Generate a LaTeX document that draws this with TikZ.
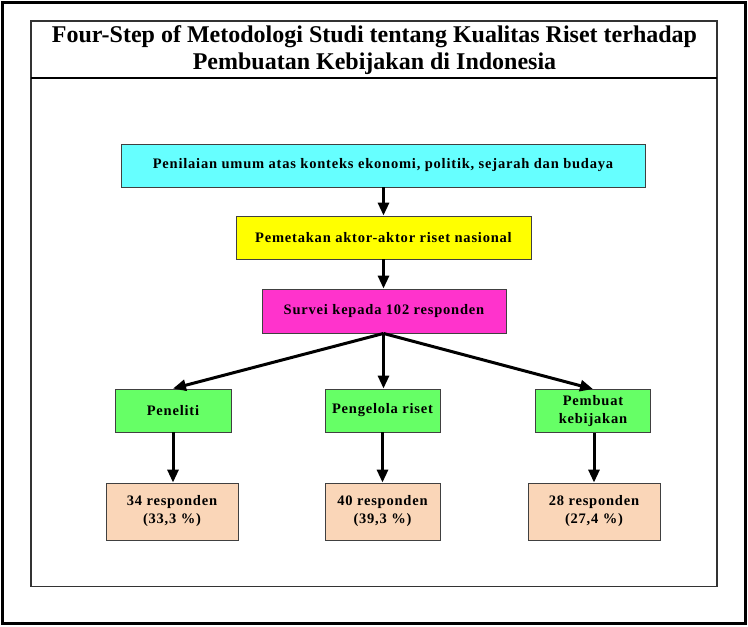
\documentclass[tikz,border=0pt]{standalone}
\usepackage{fontspec}
\setmainfont{Liberation Serif}
\newfontfamily\kotakfont[LetterSpace=5.5]{Liberation Serif}
\usetikzlibrary{arrows.meta}

\definecolor{tahapsatu}{HTML}{66FFFF}
\definecolor{tahapdua}{HTML}{FFFF00}
\definecolor{tahaptiga}{HTML}{FF33CC}
\definecolor{kelompok}{HTML}{66FF66}
\definecolor{jumlah}{HTML}{FAD6B8}

\tikzset{
  kotak/.style={draw=black!75, line width=0.9pt, inner sep=2pt, align=center,
    font=\kotakfont\bfseries\fontsize{14.5}{18}\selectfont},
  judulbaris/.style={anchor=base, inner sep=0pt, font=\bfseries\fontsize{24}{27}\selectfont},
  panah/.style={line width=3pt, -{Triangle[length=13pt,width=11pt]}},
}

\begin{document}
\begin{tikzpicture}[x=1pt,y=-1pt, line join=miter]
  % Frame of the page and the inner panel.
  \useasboundingbox (0,0) rectangle (748,627);
  \draw[line width=2.5pt] (2.5,2.5) rectangle (745.5,623.5);
  \draw[line width=1.2pt, black!80] (31,21) rectangle (717,586.5);
  \draw[line width=1.5pt] (31,78) -- (717,78);
  \node[judulbaris] (judul) at (374.5,42.5)
    {Four-Step of Metodologi Studi tentang Kualitas Riset terhadap};
  \node[judulbaris] (subjudul) at (374.5,69)
    {Pembuatan Kebijakan di Indonesia};

  % The three stages, one under the other.
  \node[kotak, fill=tahapsatu, minimum width=524, minimum height=43] (umum) at (383,165.5)
    {Penilaian umum atas konteks ekonomi, politik, sejarah dan budaya};
  \node[kotak, fill=tahapdua, minimum width=295, minimum height=43] (aktor) at (383.5,237.5)
    {Pemetakan aktor-aktor riset nasional};
  \node[kotak, fill=tahaptiga, minimum width=244, minimum height=44] (survei) at (384,311)
    {Survei kepada 102 responden};

  % Respondent groups.
  \node[kotak, fill=kelompok, minimum width=116, minimum height=43] (peneliti) at (173,410.5)
    {Peneliti};
  \node[kotak, fill=kelompok, minimum width=115, minimum height=43] (pengelola) at (382.5,410.5)
    {Pengelola riset};
  \node[kotak, fill=kelompok, minimum width=115, minimum height=43] (pembuat) at (593,411)
    {Pembuat\\kebijakan};

  % Number of respondents per group.
  \node[kotak, fill=jumlah, minimum width=132, minimum height=57] (jmlpeneliti) at (172,511.5)
    {34 responden\\(33,3 \%)};
  \node[kotak, fill=jumlah, minimum width=115, minimum height=57] (jmlpengelola) at (382.5,511.5)
    {40 responden\\(39,3 \%)};
  \node[kotak, fill=jumlah, minimum width=132, minimum height=57] (jmlpembuat) at (594,511.5)
    {28 responden\\(27,4 \%)};

  % Arrows between the boxes.
  \draw[panah] (umum.south -| aktor) -- (aktor.north);
  \draw[panah] (aktor.south) -- (aktor.south |- survei.north);
  \draw[panah] (survei.south -| aktor) -- (peneliti.north);
  \draw[panah] (survei.south -| aktor) -- (aktor |- pengelola.north);
  \draw[panah] (survei.south -| aktor) -- (pembuat.north);
  \draw[panah] (peneliti.south) -- (peneliti.south |- jmlpeneliti.north);
  \draw[panah] (pengelola.south) -- (jmlpengelola.north);
  \draw[panah] (pembuat.south -| jmlpembuat) -- (jmlpembuat.north);
\end{tikzpicture}
\end{document}
